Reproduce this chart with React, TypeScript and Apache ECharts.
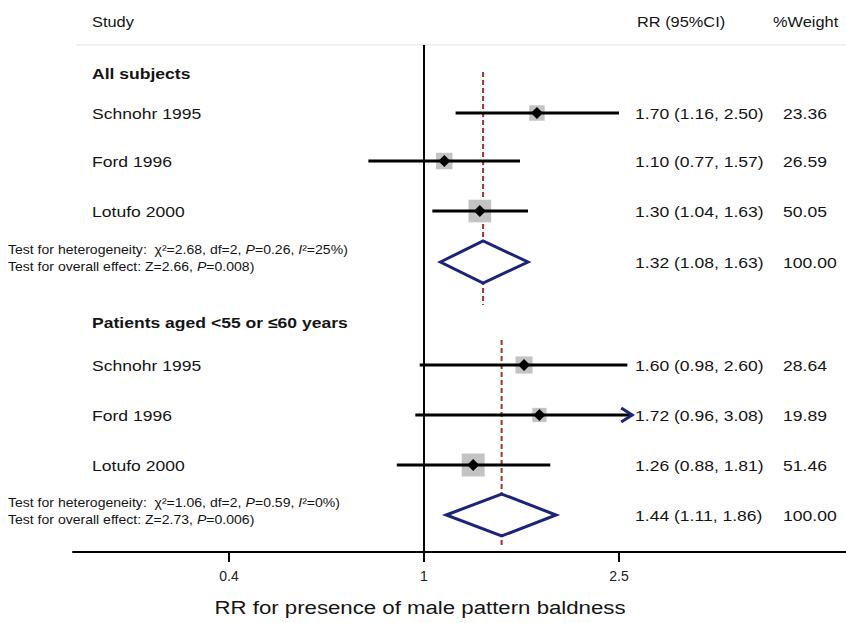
import React, { useEffect, useRef } from "react";
import * as echarts from "echarts";

// ---------- data ----------
const studyNames = ["Schnohr 1995", "Ford 1996", "Lotufo 2000", "Schnohr 1995", "Ford 1996", "Lotufo 2000"];
const studyRR = [1.7, 1.1, 1.3, 1.6, 1.72, 1.26];
const studyLower = [1.16, 0.77, 1.04, 0.98, 0.96, 0.88];
const studyUpper = [2.5, 1.57, 1.63, 2.6, 3.08, 1.81];
const studyWeight = [23.36, 26.59, 50.05, 28.64, 19.89, 51.46];

const groupNames = ["All subjects", "Patients aged <55 or \u226460 years"];
const pooledRR = [1.32, 1.44];
const pooledLower = [1.08, 1.11];
const pooledUpper = [1.63, 1.86];
const pooledWeight = [100, 100];
const hetChi2 = ["2.68", "1.06"];
const hetDf = ["2", "2"];
const hetP = ["0.26", "0.59"];
const hetI2 = ["25%", "0%"];
const overallZ = ["2.66", "2.73"];
const overallP = ["0.008", "0.006"];

const xTicks = [0.4, 1, 2.5];
const headerLabels = ["Study", "RR (95%CI)", "%Weight"];
const axisTitle = "RR for presence of male pattern baldness";

// ---------- layout (row positions on the hidden y axis) ----------
const rowStudy = [1.82, 2.78, 3.78, 6.86, 7.86, 8.86];
const rowGroup = [1.02, 6.0];
const rowPooled = [4.8, 9.86];
const refSpan = [
  [1.0, 5.66],
  [6.36, 10.46],
];
const ROW_HEADER = 0;
const ROW_HEADER_LINE = 0.46;
const ROW_AXIS = 10.6;
const ROW_TITLE = 11.7;
const X_MIN = 0.1922;
const X_MAX = 7.263;
const CLIP_MAX = 2.66;

const FONT = "'Liberation Sans', Arial, Helvetica, sans-serif";
const SX = 1.17;
const TXT = "#151515";
const NAVY = "#1b2478";

const COL_LABEL = 92;
const COL_RR = 635;
const COL_W = 783;

function txt(x: number, y: number, text: string, size: number, extra: any = {}) {
  return {
    type: "text",
    x,
    y,
    scaleX: SX,
    style: {
      text,
      fontFamily: FONT,
      fontSize: size,
      fill: TXT,
      align: "left",
      verticalAlign: "middle",
      ...extra,
    },
  };
}

export default function App() {
  const ref = useRef<HTMLDivElement>(null);

  useEffect(() => {
    document.body.style.margin = "0";
    if (!ref.current) return;
    const chart = echarts.init(ref.current, null, { renderer: "svg" });

    const studyData = studyRR.map((v, i) => [v, studyLower[i], studyUpper[i], rowStudy[i], studyWeight[i]]);
    const pooledData = pooledRR.map((v, i) => [v, pooledLower[i], pooledUpper[i], rowPooled[i], pooledWeight[i]]);

    const refLines = pooledRR.map((v, i) => ({
      type: "line",
      data: [
        [v, refSpan[i][0]],
        [v, refSpan[i][1]],
      ],
      showSymbol: false,
      symbol: "none",
      silent: true,
      z: 3,
      lineStyle: { color: "#a3322c", width: 2, type: [5, 3] },
    }));

    const option: any = {
      animation: false,
      backgroundColor: "#ffffff",
      grid: { left: 73, right: 0, top: 22, bottom: 71, containLabel: false },
      xAxis: {
        type: "log",
        logBase: 10,
        min: X_MIN,
        max: X_MAX,
        axisLine: { show: true, onZero: false, lineStyle: { color: "#000", width: 2 } },
        axisTick: {
          show: true,
          customValues: xTicks,
          length: 10,
          lineStyle: { color: "#000", width: 2 },
        },
        axisLabel: {
          show: true,
          customValues: xTicks,
          margin: 17,
          fontSize: 14,
          fontFamily: FONT,
          color: "#222",
          formatter: (v: number) => String(Number(Number(v).toPrecision(3))),
        },
        splitLine: { show: false },
      },
      yAxis: {
        type: "value",
        min: 0,
        max: ROW_AXIS,
        inverse: true,
        show: false,
      },
      series: [
        {
          type: "line",
          data: [
            [1, ROW_HEADER_LINE],
            [1, ROW_AXIS],
          ],
          showSymbol: false,
          symbol: "none",
          silent: true,
          z: 2,
          lineStyle: { color: "#000", width: 2 },
        },
        ...refLines,
        {
          // header row, header rule, axis title
          type: "custom",
          clip: false,
          silent: true,
          z: 1,
          data: [[1, ROW_HEADER]],
          encode: { x: 0, y: 1 },
          renderItem: (params: any, api: any) => {
            const yH = api.coord([1, ROW_HEADER])[1];
            const yL = api.coord([1, ROW_HEADER_LINE])[1];
            const yT = api.coord([1, ROW_TITLE])[1];
            const x0 = api.coord([X_MIN, 0])[0] + 3;
            const x1 = api.coord([X_MAX, 0])[0];
            const xOne = api.coord([1, 0])[0];
            return {
              type: "group",
              children: [
                { type: "line", shape: { x1: x0, y1: yL, x2: x1, y2: yL }, style: { stroke: "#e4e4e4", lineWidth: 1 } },
                txt(COL_LABEL, yH, headerLabels[0], 14),
                txt(COL_RR + 2, yH, headerLabels[1], 14),
                txt(773, yH, headerLabels[2], 14),
                txt(xOne - 4, yT, axisTitle, 19, { align: "center" }),
              ],
            };
          },
        },
        {
          // group headings
          type: "custom",
          clip: false,
          silent: true,
          data: rowGroup.map((r) => [1, r]),
          encode: { x: 0, y: 1 },
          renderItem: (params: any, api: any) => {
            const y = api.coord([1, api.value(1)])[1];
            return txt(COL_LABEL, y, groupNames[params.dataIndex], 15, { fontWeight: "bold" });
          },
        },
        {
          // individual studies
          type: "custom",
          clip: false,
          silent: true,
          z: 4,
          data: studyData,
          encode: { x: [0, 1, 2], y: 3 },
          renderItem: (params: any, api: any) => {
            const i = params.dataIndex;
            const row = api.value(3);
            const [xr, y] = api.coord([api.value(0), row]);
            const xl = api.coord([api.value(1), row])[0];
            const hi = api.value(2);
            const xh = api.coord([Math.min(hi, CLIP_MAX), row])[0];
            const side = Math.sqrt(api.value(4)) * 3.2;
            const d = 6;
            const children: any[] = [
              {
                type: "rect",
                shape: { x: xr - side / 2, y: y - side / 2, width: side, height: side },
                style: { fill: "#c3c3c3" },
              },
              {
                type: "line",
                shape: { x1: xl, y1: y, x2: xh, y2: y },
                style: { stroke: "#000", lineWidth: 3 },
              },
              {
                type: "polygon",
                shape: { points: [[xr - d, y], [xr, y - d], [xr + d, y], [xr, y + d]] },
                style: { fill: "#000" },
              },
            ];
            if (hi > CLIP_MAX) {
              children.push({
                type: "polyline",
                shape: { points: [[xh - 11, y - 7], [xh, y], [xh - 11, y + 7]] },
                style: { stroke: NAVY, lineWidth: 3, fill: null },
              });
            }
            children.push(txt(COL_LABEL, y, studyNames[i], 15));
            children.push(
              txt(
                COL_RR,
                y,
                `${studyRR[i].toFixed(2)} (${studyLower[i].toFixed(2)}, ${studyUpper[i].toFixed(2)})`,
                15
              )
            );
            children.push(txt(COL_W, y, studyWeight[i].toFixed(2), 15));
            return { type: "group", children };
          },
        },
        {
          // pooled estimates
          type: "custom",
          clip: false,
          silent: true,
          z: 4,
          data: pooledData,
          encode: { x: [0, 1, 2], y: 3 },
          renderItem: (params: any, api: any) => {
            const i = params.dataIndex;
            const row = api.value(3);
            const [xr, y] = api.coord([api.value(0), row]);
            const xl = api.coord([api.value(1), row])[0];
            const xh = api.coord([api.value(2), row])[0];
            const h = 21;
            const rich = {
              i: { fontStyle: "italic", fontFamily: FONT, fontSize: 12, fill: TXT },
            };
            return {
              type: "group",
              children: [
                {
                  type: "polygon",
                  shape: { points: [[xl, y], [xr, y - h], [xh, y], [xr, y + h]] },
                  style: { fill: "#fff", stroke: NAVY, lineWidth: 3 },
                },
                txt(
                  8,
                  y - 12,
                  `Test for heterogeneity:  \u03c7\u00b2=${hetChi2[i]}, df=${hetDf[i]}, {i|P}=${hetP[i]}, {i|I}\u00b2=${hetI2[i]})`,
                  12,
                  { rich }
                ),
                txt(8, y + 5, `Test for overall effect: Z=${overallZ[i]}, {i|P}=${overallP[i]})`, 12, { rich }),
                txt(
                  COL_RR,
                  y,
                  `${pooledRR[i].toFixed(2)} (${pooledLower[i].toFixed(2)}, ${pooledUpper[i].toFixed(2)})`,
                  15
                ),
                txt(COL_W, y, pooledWeight[i].toFixed(2), 15),
              ],
            };
          },
        },
      ],
    };

    chart.setOption(option);
    return () => chart.dispose();
  }, []);

  return <div ref={ref} style={{ width: 846, height: 623 }} />;
}
